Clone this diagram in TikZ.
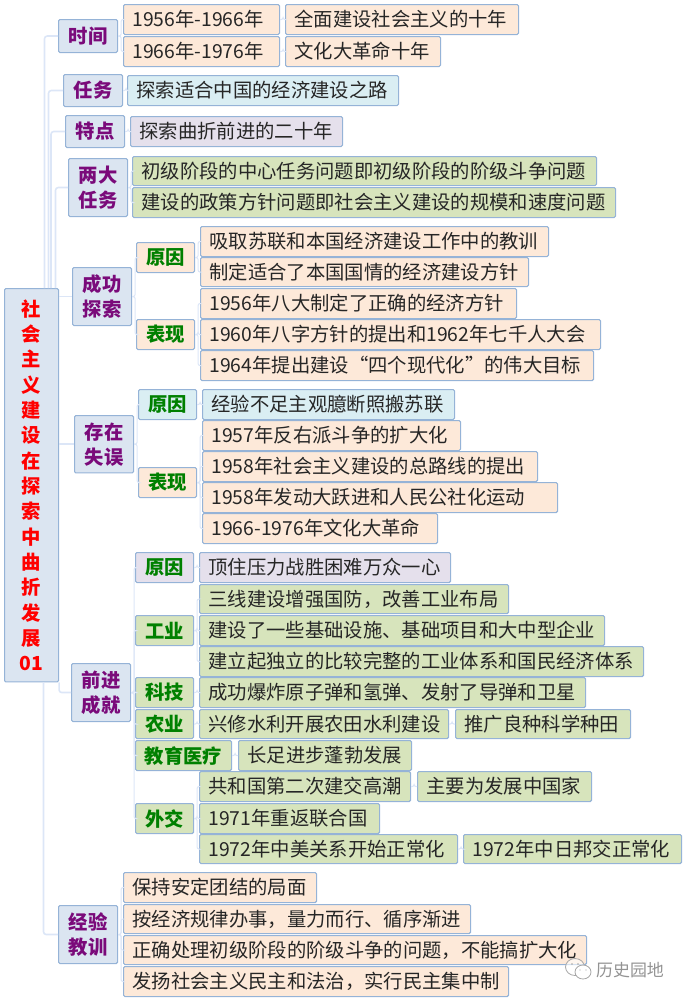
\documentclass[tikz,border=0pt]{standalone}
\usepackage{fontspec}
\setmainfont{Noto Sans CJK SC}
\usetikzlibrary{calc}
\definecolor{peach}{HTML}{FDE9D9}
\definecolor{steel}{HTML}{DBE5F1}
\definecolor{aqua}{HTML}{DAEEF3}
\definecolor{lilac}{HTML}{E5E0EC}
\definecolor{moss}{HTML}{D7E4BC}
\definecolor{edge}{HTML}{95B3D7}
\definecolor{wire}{HTML}{DCE6F7}
\definecolor{plum}{HTML}{7A0A7A}
\definecolor{leafgreen}{HTML}{008000}
\definecolor{ink}{HTML}{262626}
\tikzset{
  cell/.style={draw=edge, line width=0.8pt, rounded corners=1pt, anchor=north west, inner xsep=0pt, inner ysep=0pt, minimum width=#1*0.75pt},
  leaf/.style={draw=edge, line width=0.8pt, rounded corners=1pt, anchor=north west, inner xsep=6.75pt, inner ysep=0pt, text width=(#1-18)*0.75pt, align=left, minimum height=22.5pt, text=ink, font=\fontsize{14.5}{18}\selectfont},
  kind/.style={cell=#1, minimum height=22.5pt, text=leafgreen, font=\bfseries\fontsize{14.5}{18}\selectfont},
  topic/.style={cell=59, fill=steel, text=plum, align=center, font=\bfseries\fontsize{14.5}{18.75}\selectfont},
  branch/.style={draw=wire, line width=0.8pt, rounded corners=1.5pt},
  trunk/.style={draw=wire, line width=1.2pt, rounded corners=2pt}
}
\begin{document}
\begin{tikzpicture}[x=0.75pt, y=-0.75pt]
  \useasboundingbox (0,0) rectangle (686,1000);

  \node[cell=54, minimum height=295pt, fill=steel, text=red, align=center, font=\bfseries\fontsize{14.5}{19}\selectfont] (root) at (4,288) {社\\会\\主\\义\\建\\设\\在\\探\\索\\中\\曲\\折\\发\\展\\01};

  % time
  \node[topic, minimum height=24.75pt] (time) at (58,19) {时间};
  \node[leaf=156, fill=peach] (time1) at (123,4) {1956年-1966年};
  \node[leaf=156, fill=peach] (time2) at (123,36) {1966年-1976年};
  \node[leaf=233, fill=peach] (time1a) at (285,4) {全面建设社会主义的十年};
  \node[leaf=155, fill=peach] (time2a) at (285,36) {文化大革命十年};

  % task, trait
  \node[topic, minimum height=24pt] (task) at (63,74) {任务};
  \node[leaf=271, fill=aqua] (task1) at (127,75) {探索适合中国的经济建设之路};
  \node[topic, minimum height=24pt] (trait) at (65,115) {特点};
  \node[leaf=212, fill=lilac] (trait1) at (130,116) {探索曲折前进的二十年};

  % two duties
  \node[topic, minimum height=43.5pt] (duty) at (68,158) {两大\\任务};
  \node[leaf=464, fill=moss, minimum height=21.75pt] (duty1) at (132,156) {初级阶段的中心任务问题即初级阶段的阶级斗争问题};
  \node[leaf=483, fill=moss] (duty2) at (132,187) {建设的政策方针问题即社会主义建设的规模和速度问题};

  % success
  \node[topic, minimum height=43.5pt] (succ) at (72,267) {成功\\探索};
  \node[kind=58, fill=peach] (succA) at (136,242) {原因};
  \node[kind=58, fill=peach] (succB) at (136,319) {表现};
  \node[leaf=348, fill=peach] (succA1) at (200,226) {吸取苏联和本国经济建设工作中的教训};
  \node[leaf=328, fill=peach, minimum height=21.75pt] (succA2) at (200,257) {制定适合了本国国情的经济建设方针};
  \node[leaf=316, fill=peach] (succB1) at (200,288) {1956年八大制定了正确的经济方针};
  \node[leaf=400, fill=peach] (succB2) at (200,319) {1960年八字方针的提出和1962年七千人大会};
  \node[leaf=393, fill=peach] (succB3) at (200,350) {1964年提出建设“四个现代化”的伟大目标};

  % failure
  \node[topic, minimum height=43pt] (fail) at (74,415) {存在\\失误};
  \node[kind=58, fill=aqua] (failA) at (138,389) {原因};
  \node[kind=58, fill=peach] (failB) at (138,467) {表现};
  \node[leaf=252, fill=aqua] (failA1) at (202,389) {经验不足主观臆断照搬苏联};
  \node[leaf=258, fill=peach] (failB1) at (202,420) {1957年反右派斗争的扩大化};
  \node[leaf=335, fill=peach] (failB2) at (202,451) {1958年社会主义建设的总路线的提出};
  \node[leaf=355, fill=peach] (failB3) at (202,482) {1958年发动大跃进和人民公社化运动};
  \node[leaf=235, fill=peach] (failB4) at (202,513) {1966-1976年文化大革命};

  % advance
  \node[topic, minimum height=43.5pt] (adv) at (71,663) {前进\\成就};
  \node[kind=58, fill=lilac] (advA) at (135,552) {原因};
  \node[kind=58, fill=moss] (advB) at (135,615) {工业};
  \node[kind=58, fill=moss] (advC) at (135,677) {科技};
  \node[kind=58, fill=moss, minimum height=21.75pt] (advD) at (135,709) {农业};
  \node[kind=96, fill=moss] (advE) at (135,740) {教育医疗};
  \node[kind=58, fill=moss] (advF) at (135,803) {外交};
  \node[leaf=251, fill=lilac] (advA1) at (199,552) {顶住压力战胜困难万众一心};
  \node[leaf=309, fill=moss, minimum height=21.75pt] (advB1) at (199,584) {三线建设增强国防，改善工业布局};
  \node[leaf=405, fill=moss] (advB2) at (199,615) {建设了一些基础设施、基础项目和大中型企业};
  \node[leaf=444, fill=moss] (advB3) at (199,646) {建立起独立的比较完整的工业体系和国民经济体系};
  \node[leaf=386, fill=moss] (advC1) at (199,677) {成功爆炸原子弹和氢弹、发射了导弹和卫星};
  \node[leaf=249, fill=moss, minimum height=21.75pt] (advD1) at (199,709) {兴修水利开展农田水利建设};
  \node[leaf=175, fill=moss, minimum height=21.75pt] (advD2) at (455,709) {推广良种科学种田};
  \node[leaf=173, fill=moss] (advE1) at (238,740) {长足进步蓬勃发展};
  \node[leaf=211, fill=moss] (advF1) at (199,771) {共和国第二次建交高潮};
  \node[leaf=174, fill=moss] (advF1a) at (417,771) {主要为发展中国家};
  \node[leaf=180, fill=moss] (advF2) at (199,803) {1971年重返联合国};
  \node[leaf=258, fill=moss, minimum height=21.75pt] (advF3) at (199,834) {1972年中美关系开始正常化};
  \node[leaf=218, fill=moss, minimum height=21.75pt] (advF3a) at (463,834) {1972年中日邦交正常化};

  % lessons
  \node[topic, minimum height=43.5pt] (less) at (58,905) {经验\\教训};
  \node[leaf=193, fill=peach] (less1) at (123,872) {保持安定团结的局面};
  \node[leaf=347, fill=peach, minimum height=21.75pt] (less2) at (123,904) {按经济规律办事，量力而行、循序渐进};
  \node[leaf=463, fill=peach, minimum height=21.75pt] (less3) at (123,935) {正确处理初级阶段的阶级斗争的问题，不能搞扩大化};
  \node[leaf=385, fill=peach] (less4) at (123,966) {发扬社会主义民主和法治，实行民主集中制};

  % links from the root
  \draw[trunk] ([xshift=9.75pt]root.north) |- (time.west);
  \draw[trunk] ([xshift=12.75pt]root.north) |- (task.west);
  \draw[trunk] ([xshift=14.6pt]root.north) |- (trait.west);
  \draw[trunk] ([xshift=18pt]root.north) |- (duty.west);
  \draw[trunk] (root.east |- succ.west) -- (succ.west);
  \draw[trunk] (root.east |- fail.west) -- (fail.west);
  \draw[trunk] (root.south east) |- (adv.west);
  \draw[trunk] ([xshift=9pt]root.south) |- (less.west);

  % links between the boxes
  \foreach \a/\b in {time/time1, time/time2, time1/time1a, time2/time2a, task/task1, trait/trait1,
    duty/duty1, duty/duty2, succ/succA, succ/succB, succA/succA1, succA/succA2,
    succB/succB1, succB/succB2, succB/succB3, fail/failA, fail/failB, failA/failA1,
    failB/failB1, failB/failB2, failB/failB3, failB/failB4, adv/advA, adv/advB, adv/advC,
    adv/advD, adv/advE, adv/advF, advA/advA1, advB/advB1, advB/advB2, advB/advB3,
    advC/advC1, advD/advD1, advD1/advD2, advE/advE1, advF/advF1, advF/advF2, advF/advF3,
    advF1/advF1a, advF3/advF3a, less/less1, less/less2, less/less3, less/less4}
    \draw[branch] (\a.east) -- ++(3,0) |- (\b.west);

  % watermark
  \draw[gray!70, line width=0.6pt, fill=white, fill opacity=0.6] (575,967) ellipse (9.5 and 8.5);
  \fill[gray!70] (572,964) circle (0.8) (578,964) circle (0.8);
  \draw[gray!70, line width=0.6pt, fill=white] (583,972) ellipse (8 and 7);
  \fill[gray!70] (580,970) circle (0.7) (586,970) circle (0.7);
  \node[text=gray!85, font=\fontsize{12.7}{15}\selectfont] (mark) at (630,970) {历史园地};
\end{tikzpicture}
\end{document}
